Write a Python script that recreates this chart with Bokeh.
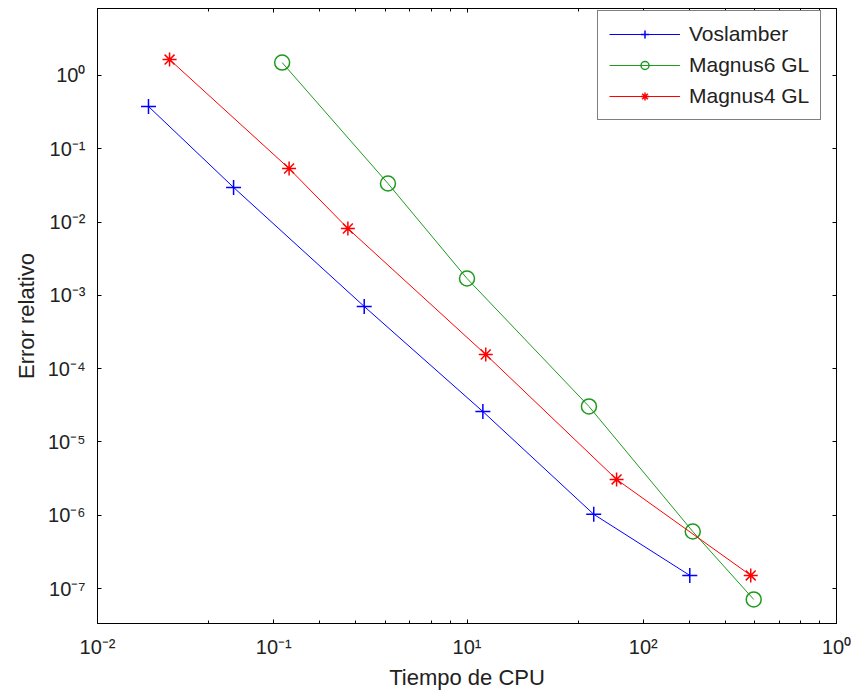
from bokeh.plotting import figure
from bokeh.models import (Range1d, FixedTicker, LogAxis, Legend, LegendItem)
from bokeh.embed import file_html
from bokeh.resources import INLINE

# ---- data ----
vos_x = [0.01374, 0.02335, 0.0527, 0.1104, 0.2203, 0.4008]
vos_y = [0.378, 0.0297, 7.06e-4, 2.6e-5, 1.03e-6, 1.51e-7]

m6_x = [0.0316, 0.0611, 0.100, 0.2138, 0.4083, 0.597]
m6_y = [1.50, 0.0336, 1.70e-3, 3.05e-5, 6.0e-7, 7.1e-8]

m4_x = [0.01567, 0.0330, 0.0476, 0.1124, 0.254, 0.586]
m4_y = [1.65, 0.0538, 8.18e-3, 1.56e-4, 3.08e-6, 1.51e-7]

# tick positions and the (garbled) labels as printed in the original
x_ticks = [0.01, 0.03, 0.1, 0.3, 1.0]
x_labels = ["10⁻²", "10⁻¹", "10¹", "10²", "10⁰"]
x_minor = [0.02, 0.03, 0.04, 0.05, 0.06, 0.07, 0.08, 0.09,
           0.2, 0.3, 0.4, 0.5, 0.6, 0.7, 0.8, 0.9]
y_ticks = [1.0, 1e-1, 1e-2, 1e-3, 1e-4, 1e-5, 1e-6, 1e-7]
y_labels = ["10⁰", "10⁻¹", "10⁻²", "10⁻³", "10⁻⁴", "10⁻⁵", "10⁻⁶", "10⁻⁷"]

FONT = "Liberation Sans"
TXT = "#222222"

p = figure(width=856, height=694, x_axis_type="log", y_axis_type="log",
           x_range=Range1d(0.01, 1.0),
           y_range=Range1d(10 ** -7.477, 10 ** 0.914),
           output_backend="svg", toolbar_location=None,
           min_border_left=97, min_border_right=20,
           min_border_top=8, min_border_bottom=71)
p.xgrid.visible = False
p.ygrid.visible = False
p.outline_line_color = "black"
p.background_fill_color = "white"
p.border_fill_color = "white"


def style_axis(ax, ticker):
    ax.ticker = ticker
    ax.axis_line_color = "black"
    ax.axis_line_width = 1
    ax.major_tick_in = 4
    ax.major_tick_out = 0
    ax.minor_tick_in = 3
    ax.minor_tick_out = 0
    ax.major_tick_line_color = "black"
    ax.minor_tick_line_color = "black"


xt = FixedTicker(ticks=x_ticks, minor_ticks=x_minor)
yt = FixedTicker(ticks=y_ticks, minor_ticks=[])

xa = p.xaxis[0]
style_axis(xa, xt)
xa.major_label_overrides = {t: l for t, l in zip(x_ticks, x_labels)}
xa.major_label_text_font = FONT
xa.major_label_text_font_size = "20px"
xa.major_label_text_color = TXT
xa.major_label_standoff = 12
xa.axis_label = "Tiempo de CPU"
xa.axis_label_text_font = FONT
xa.axis_label_text_font_size = "22px"
xa.axis_label_text_font_style = "normal"
xa.axis_label_text_color = TXT
xa.axis_label_standoff = 4

ya = p.yaxis[0]
style_axis(ya, yt)
ya.major_label_overrides = {t: l for t, l in zip(y_ticks, y_labels)}
ya.major_label_text_font = FONT
ya.major_label_text_font_size = "20px"
ya.major_label_text_color = TXT
ya.major_label_standoff = 12
ya.axis_label = "Error relativo"
ya.axis_label_text_font = FONT
ya.axis_label_text_font_size = "22px"
ya.axis_label_text_font_style = "normal"
ya.axis_label_text_color = TXT
ya.axis_label_standoff = 6

# mirrored axes (ticks only) on top and right
top = LogAxis()
style_axis(top, FixedTicker(ticks=x_ticks, minor_ticks=x_minor))
top.major_label_overrides = {t: "" for t in x_ticks}
top.major_label_text_font_size = "1px"
top.major_label_standoff = 0
p.add_layout(top, "above")

right = LogAxis()
style_axis(right, FixedTicker(ticks=y_ticks, minor_ticks=[]))
right.major_label_overrides = {t: "" for t in y_ticks}
right.major_label_text_font_size = "1px"
right.major_label_standoff = 0
p.add_layout(right, "right")

# ---- series ----
BLUE = "#0000ff"
GREEN = "#1f9a1f"
RED = "#ff0000"

vl = p.line(vos_x, vos_y, line_color=BLUE, line_width=1)
vm = p.scatter(vos_x, vos_y, marker="cross", size=15, line_color=BLUE, line_width=1.5)

gl = p.line(m6_x, m6_y, line_color=GREEN, line_width=1)
gm = p.scatter(m6_x, m6_y, marker="circle", size=15, line_color=GREEN,
               fill_color=None, line_width=1.5)

rl = p.line(m4_x, m4_y, line_color=RED, line_width=1)
rm = p.scatter(m4_x, m4_y, marker="asterisk", size=14, line_color=RED, line_width=1.5)

legend = Legend(items=[
    LegendItem(label="Voslamber", renderers=[vl, vm]),
    LegendItem(label="Magnus6 GL", renderers=[gl, gm]),
    LegendItem(label="Magnus4 GL", renderers=[rl, rm]),
], location=(500, 503))
legend.label_text_font = FONT
legend.label_text_font_size = "21px"
legend.label_text_color = TXT
legend.border_line_color = "black"
legend.border_line_width = 1.2
legend.background_fill_color = "white"
legend.background_fill_alpha = 1
legend.glyph_width = 71
legend.glyph_height = 20
legend.label_height = 20
legend.label_standoff = 9
legend.spacing = 7
legend.padding = 11
legend.margin = 0
p.add_layout(legend)

open("out.html", "w").write(file_html(p, INLINE))
